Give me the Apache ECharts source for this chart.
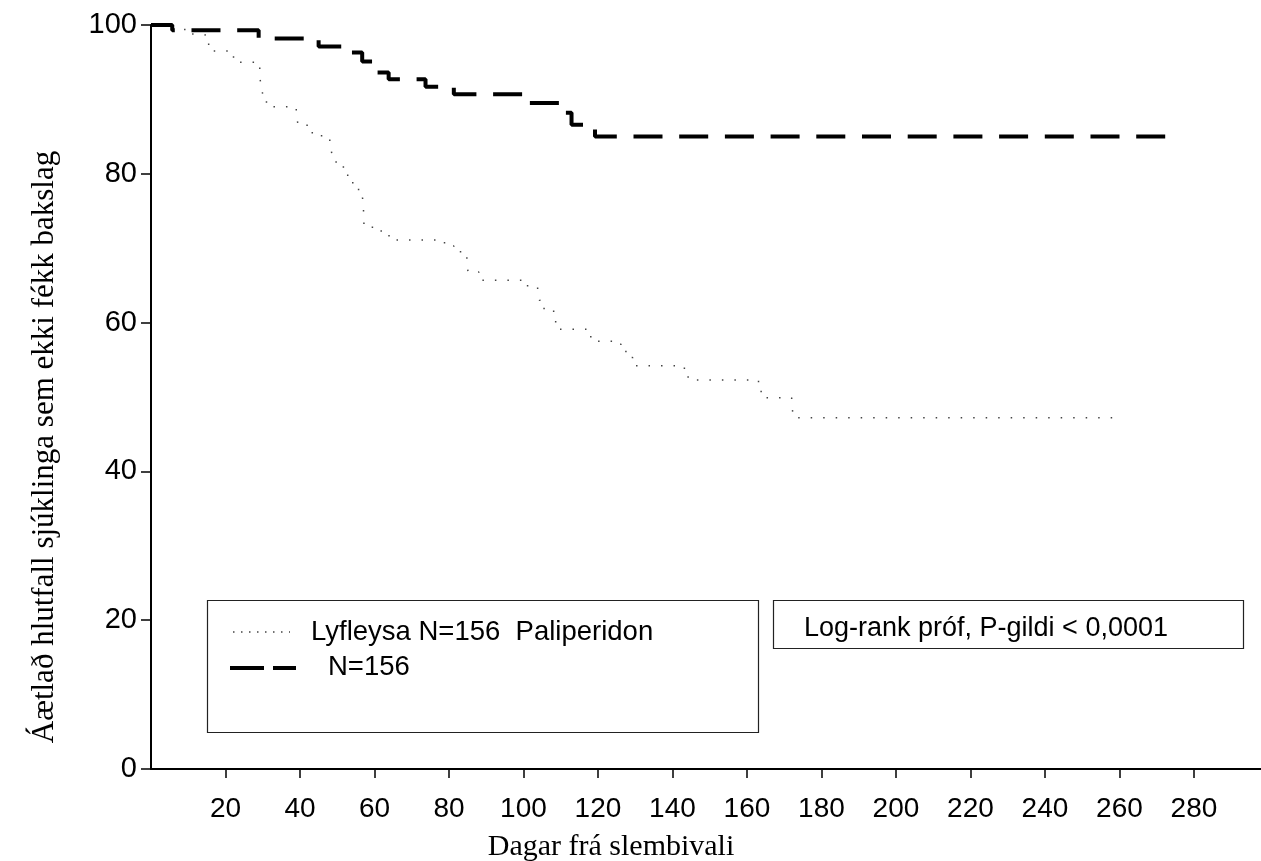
<!DOCTYPE html>
<html>
<head>
<meta charset="utf-8">
<script src="https://cdn.jsdelivr.net/npm/echarts@6/dist/echarts.min.js"></script>
<style>
html,body{margin:0;padding:0;background:#fff;}
#chart{width:1261px;height:861px;}
</style>
</head>
<body>
<div id="chart"></div>
<script>
// Paliperidon (dashed) Kaplan-Meier steps: day, percent
const palDays = [0, 5.7, 28.9, 45, 52, 56.7, 60, 63.8, 73.7, 81.3, 100, 110.5, 112.9, 118, 119.2, 272.5];
const palPct  = [100, 99.3, 98.2, 97.1, 96.3, 95.1, 93.6, 92.7, 91.7, 90.7, 89.5, 88.2, 86.6, 86.1, 85.0, 85.0];

// Lyfleysa / placebo (dotted) Kaplan-Meier steps
const plaDays = [0, 6, 10.6, 13.7, 15, 16.4, 21.8, 23.5, 28.5, 29.2, 29.7, 30.1, 31, 39, 39.4, 41.9, 43.3, 48.0, 48.5, 48.9,
  51.1, 52, 53.4, 54.9, 56.7, 57, 57.1, 57.2, 61.8, 63.9, 78.8, 81.3, 83.1, 84.8, 85.1, 88, 101.1, 103.8, 104.3, 105.1,
  108.1, 109.1, 117, 119.4, 124.8, 126.2, 128, 129.3, 143.2, 145, 163.1, 163.8, 172, 172.5, 259.2];
const plaPct  = [100, 99.4, 98.8, 98.6, 97.4, 96.5, 95.7, 95.0, 94.3, 92.8, 91.8, 90.2, 89.0, 88.1, 86.8, 86.3, 85.1, 84.3, 82.8, 81.6,
  80.9, 79.8, 78.8, 77.9, 77.1, 75.9, 74.3, 72.8, 71.8, 71.1, 70.3, 69.8, 68.9, 68.4, 66.8, 65.7, 64.8, 64.3, 63.0, 61.9,
  60.1, 59.1, 58.1, 57.5, 57.1, 56.1, 55.3, 54.2, 52.7, 52.3, 51.1, 49.9, 49.0, 47.2, 47.2];

const xTicks = [20, 40, 60, 80, 100, 120, 140, 160, 180, 200, 220, 240, 260, 280];
const yTicks = [0, 20, 40, 60, 80, 100];

const yTitle = 'Áætlað hlutfall sjúklinga sem ekki fékk bakslag';
const xTitle = 'Dagar frá slembivali';
const legend1 = 'Lyfleysa N=156  Paliperidon';
const legend2 = 'N=156';
const statText = 'Log-rank próf, P-gildi < 0,0001';

const SANS = '"Liberation Sans", Arial, sans-serif';
const SERIF = '"Liberation Serif", "Times New Roman", serif';

const chart = echarts.init(document.getElementById('chart'), null, {renderer: 'canvas'});

const palData = palDays.map((d, i) => [d, palPct[i]]);
const plaData = plaDays.map((d, i) => [d, plaPct[i]]);

chart.setOption({
  animation: false,
  backgroundColor: '#fff',
  grid: {left: 151, right: 0, top: 25, bottom: 92, containLabel: false},
  xAxis: {
    type: 'value', min: 0, max: 298, interval: 20,
    splitLine: {show: false},
    axisLine: {show: true, lineStyle: {color: '#000', width: 2}},
    axisTick: {show: true, customValues: xTicks, length: 9, inside: false, lineStyle: {color: '#000', width: 1.5}},
    axisLabel: {show: true, customValues: xTicks, margin: 26, color: '#000', fontSize: 28, fontFamily: SANS}
  },
  yAxis: {
    type: 'value', min: 0, max: 100, interval: 20,
    splitLine: {show: false},
    axisLine: {show: true, lineStyle: {color: '#000', width: 2}},
    axisTick: {show: true, length: 10, inside: false, lineStyle: {color: '#000', width: 1.5}},
    axisLabel: {show: true, margin: 14, color: '#000', fontSize: 29, fontFamily: SANS}
  },
  series: [
    {
      name: 'Lyfleysa', type: 'line', step: 'end', data: plaData, symbol: 'none',
      lineStyle: {color: '#444', width: 1.5, type: [1.5, 11]}, z: 3
    },
    {
      name: 'Paliperidon', type: 'line', step: 'end', data: palData, symbol: 'none',
      lineStyle: {color: '#000', width: 4, type: [29, 16.7], cap: 'butt'}, z: 4
    }
  ],
  graphic: [
    {type: 'text', x: 45, y: 447, rotation: Math.PI / 2,
      style: {text: yTitle, font: '31px ' + SERIF, fill: '#000', align: 'center', verticalAlign: 'middle'}},
    {type: 'text', x: 611, y: 847,
      style: {text: xTitle, font: '30px ' + SERIF, fill: '#000', align: 'center', verticalAlign: 'middle'}},
    {type: 'rect', shape: {x: 207.5, y: 600.5, width: 551, height: 132},
      style: {fill: 'none', stroke: '#222', lineWidth: 1.2}},
    {type: 'line', shape: {x1: 233, y1: 632, x2: 290, y2: 632},
      style: {stroke: '#444', lineWidth: 1.5, lineDash: [1.5, 6.5]}},
    {type: 'text', x: 311, y: 632,
      style: {text: legend1, font: '27.5px ' + SANS, fill: '#000', align: 'left', verticalAlign: 'middle'}},
    {type: 'line', shape: {x1: 230, y1: 668, x2: 264, y2: 668},
      style: {stroke: '#000', lineWidth: 4}},
    {type: 'line', shape: {x1: 273, y1: 668, x2: 296, y2: 668},
      style: {stroke: '#000', lineWidth: 4}},
    {type: 'text', x: 328, y: 667,
      style: {text: legend2, font: '27.5px ' + SANS, fill: '#000', align: 'left', verticalAlign: 'middle'}},
    {type: 'rect', shape: {x: 773.5, y: 600.5, width: 470, height: 48},
      style: {fill: 'none', stroke: '#222', lineWidth: 1.2}},
    {type: 'text', x: 804, y: 629,
      style: {text: statText, font: '27px ' + SANS, fill: '#000', align: 'left', verticalAlign: 'middle'}}
  ]
});
</script>
</body>
</html>
